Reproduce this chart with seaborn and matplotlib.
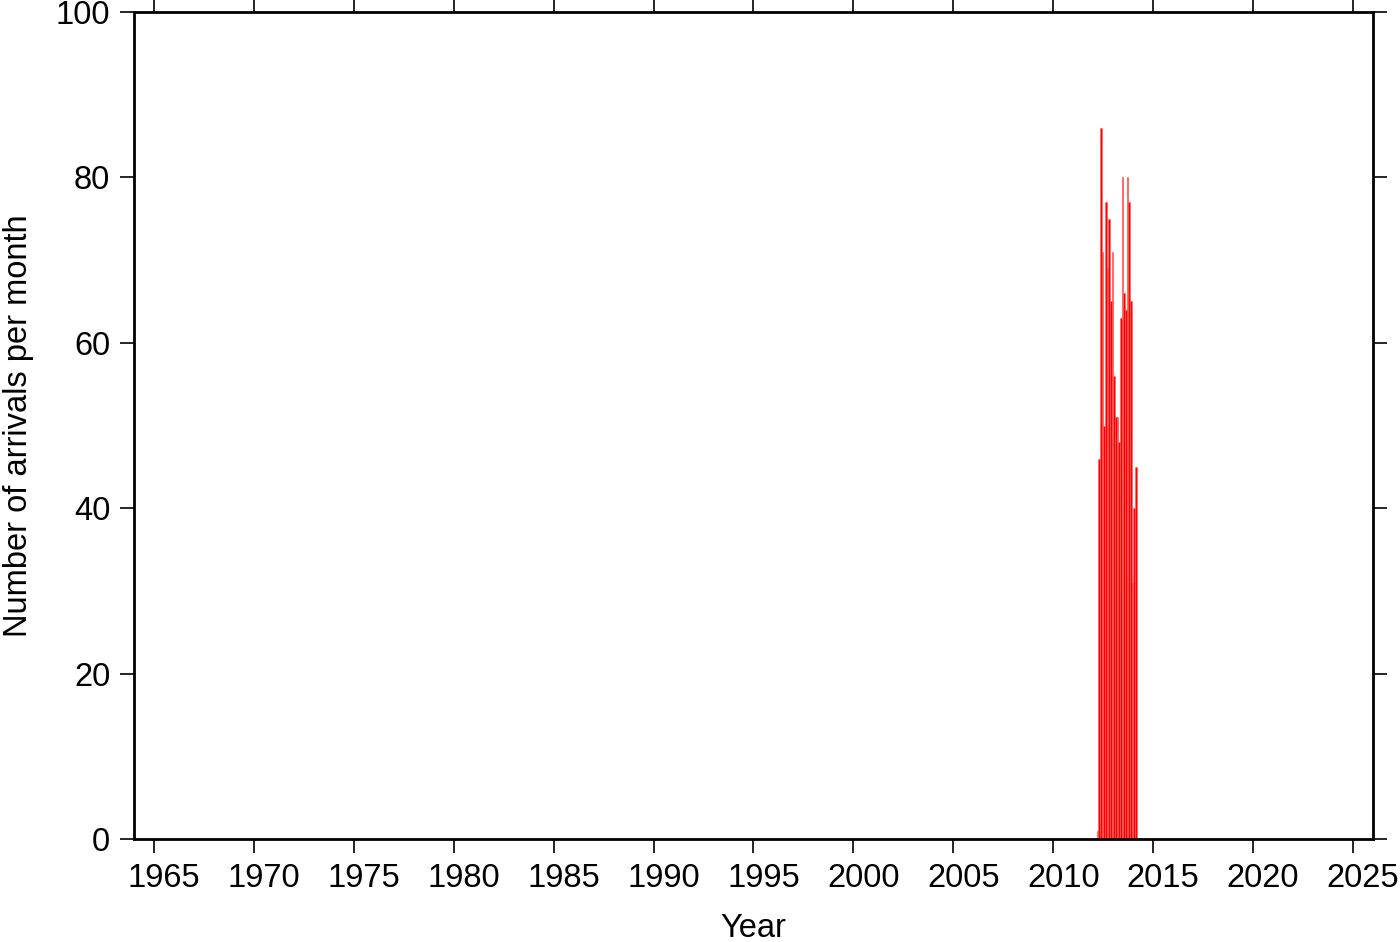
import numpy as np
import pandas as pd
import matplotlib
matplotlib.use("Agg")
import matplotlib.pyplot as plt
import matplotlib.transforms as mtransforms
import seaborn as sns

# monthly arrival counts, Mar 2012 .. Feb 2014
start_year = 2012
start_month = 3
counts = [1, 46, 86, 71, 50, 77, 69, 75, 65, 71, 56, 51,
          51, 48, 63, 80, 66, 64, 80, 77, 65, 31, 40, 45]

xticks = list(range(1965, 2030, 5))
yticks = [0, 20, 40, 60, 80, 100]

# decimal year for the start of each month
months = np.arange(len(counts)) + (start_month - 1)
month_start = start_year + months / 12.0
df = pd.DataFrame({'year': month_start + 1 / 24.0, 'n': counts})

sns.set_style('white')
plt.rcParams['font.family'] = ['Liberation Sans', 'DejaVu Sans']
plt.rcParams['text.color'] = 'black'
plt.rcParams['axes.labelcolor'] = 'black'
plt.rcParams['xtick.color'] = 'black'
plt.rcParams['ytick.color'] = 'black'

fig = plt.figure(figsize=(14, 9.42), dpi=100)
ax = fig.add_axes([0.0957, 0.1093, 0.885, 0.878])

sns.histplot(data=df, x='year', weights='n', binwidth=1 / 12.0,
             binrange=(month_start[0], month_start[-1] + 1 / 12.0), ax=ax,
             color='#ff0000', alpha=1.0, edgecolor='#ff6060', linewidth=0.4)

ax.set_xlim(1964, 2026)
ax.set_ylim(0, 100)
ax.set_xticks(xticks)
ax.set_yticks(yticks)
ax.tick_params(axis='both', direction='out', length=10, width=1.2, labelsize=23.5,
               top=True, right=True, bottom=True, left=True, pad=7)
for s in ax.spines.values():
    s.set_linewidth(2)
    s.set_color('black')

# year labels sit a little right of their ticks in the original
shift = mtransforms.ScaledTranslation(0.10, 0, fig.dpi_scale_trans)
for lab in ax.get_xticklabels():
    lab.set_transform(lab.get_transform() + shift)

ax.set_xlabel('Year', fontsize=23.5, labelpad=14)
ax.set_ylabel('Number of arrivals per month', fontsize=23.5, labelpad=16)

fig.savefig('out.png', dpi=100)
